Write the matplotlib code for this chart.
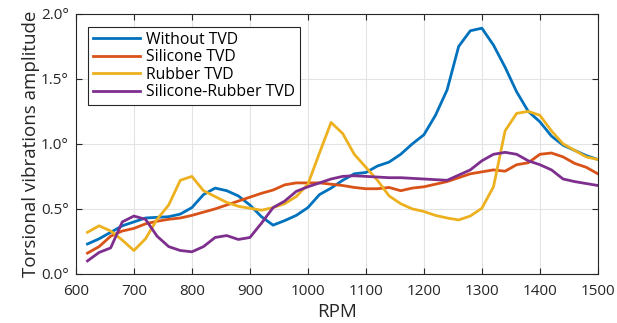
import matplotlib
matplotlib.use("Agg")
import matplotlib.pyplot as plt
from matplotlib.ticker import FuncFormatter

plt.rcParams['font.family'] = ['Open Sans', 'DejaVu Sans']

rpm = [620, 640, 660, 680, 700, 720, 740, 760, 780, 800, 820, 840, 860, 880, 900,
       920, 940, 960, 980, 1000, 1020, 1040, 1060, 1080, 1100, 1120, 1140, 1160, 1180, 1200,
       1220, 1240, 1260, 1280, 1300, 1320, 1340, 1360, 1380, 1400, 1420, 1440, 1460, 1480, 1500]

without_tvd = [0.23, 0.27, 0.32, 0.37, 0.40, 0.43, 0.435, 0.44, 0.46, 0.51, 0.61, 0.66, 0.64, 0.60, 0.53,
               0.44, 0.375, 0.41, 0.45, 0.51, 0.61, 0.66, 0.72, 0.77, 0.78, 0.83, 0.86, 0.92, 1.0, 1.07,
               1.22, 1.415, 1.75, 1.87, 1.89, 1.76, 1.59, 1.40, 1.25, 1.17, 1.06, 0.99, 0.95, 0.91, 0.88]
silicone = [0.16, 0.21, 0.29, 0.33, 0.35, 0.385, 0.405, 0.42, 0.43, 0.45, 0.475, 0.50, 0.53, 0.56, 0.59,
            0.62, 0.645, 0.685, 0.70, 0.70, 0.70, 0.69, 0.68, 0.665, 0.655, 0.655, 0.665, 0.64, 0.66, 0.67,
            0.69, 0.71, 0.74, 0.77, 0.785, 0.80, 0.79, 0.84, 0.855, 0.92, 0.93, 0.90, 0.85, 0.82, 0.77]
rubber = [0.32, 0.37, 0.33, 0.26, 0.18, 0.27, 0.42, 0.53, 0.72, 0.75, 0.64, 0.595, 0.55, 0.52, 0.505,
          0.49, 0.51, 0.54, 0.595, 0.69, 0.93, 1.165, 1.08, 0.92, 0.82, 0.72, 0.60, 0.54, 0.50, 0.48,
          0.45, 0.43, 0.415, 0.445, 0.505, 0.67, 1.10, 1.235, 1.25, 1.22, 1.10, 1.0, 0.95, 0.90, 0.88]
silicone_rubber = [0.10, 0.165, 0.20, 0.40, 0.445, 0.42, 0.29, 0.21, 0.18, 0.17, 0.21, 0.28, 0.295, 0.265, 0.28,
                   0.39, 0.51, 0.56, 0.635, 0.67, 0.70, 0.73, 0.75, 0.755, 0.75, 0.745, 0.74, 0.74, 0.735, 0.73,
                   0.725, 0.72, 0.76, 0.80, 0.87, 0.92, 0.935, 0.92, 0.87, 0.84, 0.80, 0.73, 0.71, 0.695, 0.68]

labels = ["Without TVD", "Silicone TVD", "Rubber TVD", "Silicone-Rubber TVD"]
colors = ["#0072BD", "#D95319", "#EDB120", "#7E2F8E"]

fig = plt.figure(figsize=(6.17, 3.23), dpi=100)
ax = fig.add_axes([0.123, 0.152, 0.846, 0.805])

for y, lab, c in zip([without_tvd, silicone, rubber, silicone_rubber], labels, colors):
    ax.plot(rpm, y, color=c, linewidth=2, label=lab)

ax.set_xlim(600, 1500)
ax.set_ylim(0, 2)
ax.set_xticks(range(600, 1501, 100))
ax.set_yticks([0, 0.5, 1.0, 1.5, 2.0])
ax.yaxis.set_major_formatter(FuncFormatter(lambda v, p: f"{v:.1f}°"))
ax.grid(True, color="#e3e3e3", linewidth=0.8)
ax.set_axisbelow(True)
ax.tick_params(direction="in", top=True, right=True, labelsize=11, colors="#262626",
               length=4, width=0.8)
ax.tick_params(axis="x", pad=7)
ax.tick_params(axis="y", pad=5)
for s in ax.spines.values():
    s.set_color("#262626")
    s.set_linewidth(0.8)

ax.set_xlabel("RPM", fontsize=13.5, color="#262626", labelpad=3)
ax.set_ylabel("Torsional vibrations amplitude", fontsize=13.5, color="#262626", labelpad=1)

leg = ax.legend(loc="upper left", bbox_to_anchor=(0.023, 0.95), fontsize=11.3, fancybox=False,
                framealpha=1, edgecolor="#262626", handlelength=3.0, borderpad=0.3,
                labelspacing=0.1, handletextpad=0.4, borderaxespad=0)
leg.get_frame().set_linewidth(0.8)

fig.savefig("out.png", dpi=100)
